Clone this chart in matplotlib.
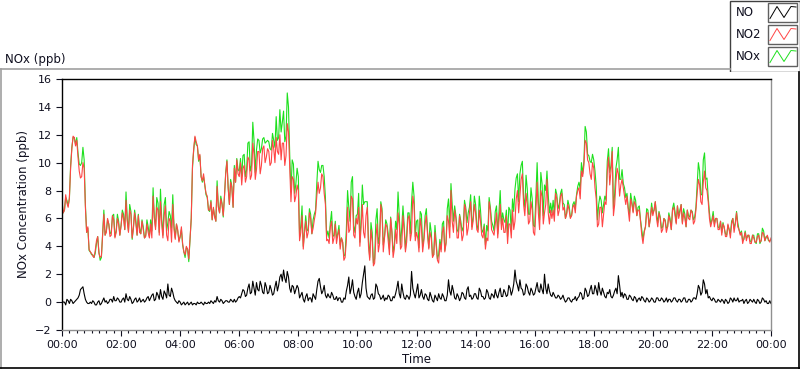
import numpy as np
import matplotlib
matplotlib.use("Agg")
import matplotlib.pyplot as plt
from matplotlib.patches import Rectangle
from matplotlib.lines import Line2D

# NO2 (ppb) read every 5 minutes, one row per hour, plus the final 24:00 value
no2 = [
    7.2, 6.6, 7.1, 7.5, 11.0, 11.8, 11.6, 9.4, 9.0, 9.6, 5.0, 3.8,
    3.5, 3.2, 4.4, 3.5, 3.3, 6.3, 5.0, 5.6, 4.8, 5.9, 5.0, 5.6,
    5.5, 6.0, 7.3, 5.0, 6.3, 5.3, 5.6, 6.2, 4.9, 5.2, 4.7, 5.0,
    5.6, 7.6, 5.2, 6.6, 7.2, 4.6, 6.9, 4.4, 5.8, 7.0, 4.5, 5.2,
    4.7, 4.2, 3.4, 3.8, 4.6, 9.8, 11.9, 11.2, 10.6, 8.7, 8.4, 7.6,
    6.6, 5.9, 6.1, 8.3, 6.4, 7.0, 7.6, 10.1, 7.0, 8.2, 9.6, 10.2,
    9.0, 8.4, 9.8, 9.0, 10.2, 9.1, 10.6, 9.5, 10.8, 9.8, 11.2, 10.4,
    10.8, 10.0, 11.0, 11.8, 10.6, 10.2, 11.4, 10.5, 12.2, 7.2, 8.8, 7.6,
    8.0, 5.0, 3.8, 5.8, 5.0, 6.0, 5.3, 6.4, 8.6, 8.2, 9.0, 7.0,
    4.5, 5.4, 4.2, 5.6, 4.8, 3.8, 4.3, 3.2, 6.8, 5.2, 7.4, 4.6,
    5.6, 4.0, 7.0, 4.6, 6.8, 3.0, 4.4, 2.8, 5.6, 4.2, 6.4, 4.6,
    5.4, 3.4, 5.0, 3.8, 4.2, 5.6, 4.0, 5.2, 4.3, 6.2, 5.0, 7.0,
    5.0, 3.6, 5.4, 4.4, 6.2, 3.8, 4.6, 3.4, 4.0, 2.8, 3.6, 5.4,
    4.2, 5.8, 8.0, 5.0, 6.0, 4.6, 5.5, 4.8, 6.6, 5.3, 7.2, 5.8,
    6.4, 5.0, 5.8, 4.6, 3.8, 4.4, 6.6, 5.0, 5.6, 4.6, 7.0, 6.0,
    5.0, 4.2, 5.6, 6.6, 5.8, 8.0, 7.6, 9.2, 6.2, 7.0, 5.8, 6.6,
    4.8, 8.6, 5.2, 7.6, 6.4, 8.8, 5.6, 6.0, 5.8, 7.4, 6.6, 7.8,
    6.8, 6.3, 6.6, 6.2, 7.0, 7.6, 8.2, 9.4, 9.8, 11.4, 10.0, 8.8,
    9.6, 7.4, 5.6, 6.8, 6.3, 7.0, 10.4, 9.4, 6.2, 8.6, 9.2, 8.4,
    8.2, 7.0, 6.6, 7.4, 6.4, 7.0, 6.6, 5.8, 4.2, 5.4, 6.4, 6.0,
    6.2, 7.2, 5.4, 6.0, 5.2, 5.8, 5.4, 5.8, 6.6, 6.2, 6.9, 6.4,
    5.6, 6.0, 6.6, 5.9, 6.4, 5.8, 7.8, 8.4, 7.0, 9.4, 8.0, 6.0,
    5.8, 5.4, 6.0, 5.2, 4.8, 5.4, 4.7, 5.2, 5.6, 5.0, 6.4, 5.2,
    5.0, 4.6, 4.4, 4.8, 4.2, 4.6, 4.3, 4.8, 4.4, 4.9, 4.6, 4.5,
    4.6,
]

# NO2 read half way between the samples above (xx:02.5, xx:07.5, ...)
no2_mid = [
    6.4, 7.7, 6.8, 9.6, 11.9, 11.2, 10.4, 8.9, 10.0, 6.8, 5.4, 3.6,
    3.3, 3.7, 4.7, 3.2, 4.8, 4.8, 6.0, 4.7, 6.2, 4.6, 6.0, 4.8,
    6.4, 5.2, 5.8, 6.6, 4.6, 6.4, 4.8, 5.0, 5.8, 4.6, 5.6, 4.6,
    4.6, 6.0, 6.8, 4.8, 5.6, 6.2, 4.8, 6.0, 4.3, 5.2, 5.6, 4.3,
    5.4, 3.6, 4.0, 3.1, 6.0, 11.0, 11.5, 10.2, 9.0, 9.2, 7.8, 6.6,
    7.2, 6.8, 5.8, 6.8, 7.4, 6.2, 9.2, 8.2, 8.6, 6.8, 8.6, 9.2,
    10.0, 9.6, 8.6, 10.4, 8.8, 11.4, 8.8, 10.8, 9.2, 11.0, 10.0, 11.0,
    9.8, 11.6, 10.0, 10.8, 12.0, 11.4, 9.8, 12.8, 9.6, 9.0, 7.2, 8.4,
    4.4, 6.2, 5.0, 4.6, 6.4, 4.9, 5.9, 7.6, 7.8, 9.2, 7.8, 4.4,
    4.2, 5.8, 4.6, 4.2, 5.2, 4.6, 3.0, 4.4, 5.0, 7.6, 4.8, 6.0,
    6.8, 5.4, 5.0, 6.2, 4.0, 5.2, 2.6, 4.6, 3.6, 7.0, 3.6, 5.6,
    4.4, 6.0, 3.2, 5.2, 6.4, 3.8, 6.2, 3.6, 6.0, 4.4, 7.6, 4.4,
    4.6, 6.0, 3.6, 5.6, 4.8, 5.0, 3.2, 5.0, 3.0, 4.2, 5.0, 3.6,
    6.2, 4.6, 5.8, 6.6, 4.6, 6.2, 4.4, 7.0, 4.8, 6.4, 5.2, 7.0,
    5.2, 6.6, 4.8, 5.4, 4.6, 7.2, 5.2, 4.8, 6.4, 5.8, 5.2, 5.0,
    6.2, 5.6, 4.6, 5.2, 7.4, 6.4, 8.8, 7.0, 7.8, 5.6, 7.2, 5.0,
    6.6, 6.4, 8.0, 5.6, 7.0, 6.4, 6.6, 6.6, 7.8, 6.2, 7.6, 6.6,
    6.0, 7.0, 6.0, 6.8, 6.4, 8.0, 7.4, 9.0, 11.6, 10.2, 9.2, 10.0,
    8.2, 5.4, 6.8, 5.4, 7.2, 9.4, 8.4, 10.8, 7.0, 9.6, 7.6, 8.8,
    7.6, 7.6, 5.8, 7.0, 7.2, 6.2, 6.6, 4.8, 5.0, 6.4, 5.4, 6.8,
    6.6, 6.0, 6.4, 5.0, 6.0, 5.0, 6.2, 5.2, 6.8, 5.6, 6.0, 7.0,
    6.4, 5.4, 6.0, 6.6, 5.6, 6.6, 8.8, 7.2, 8.6, 8.2, 7.2, 5.4,
    6.2, 6.0, 5.2, 5.8, 5.6, 4.7, 5.6, 4.6, 6.0, 5.6, 5.4, 4.8,
    4.2, 5.0, 4.8, 4.2, 4.8, 4.3, 4.7, 4.3, 5.0, 4.4, 4.8, 4.3,
]

# NO (ppb), same layout
no = [
    0.1, 0.0, 0.2, -0.1, 0.1, 0.0, 0.2, 0.5, 1.0, 0.6, 0.0, -0.1,
    -0.1, 0.0, -0.2, 0.1, -0.1, 0.3, 0.1, 0.0, 0.2, 0.4, 0.1, 0.2,
    0.0, 0.3, 0.6, 0.1, 0.2, 0.0, 0.3, 0.1, 0.0, 0.2, 0.1, 0.4,
    0.3, 0.6, 0.2, 0.5, 0.9, 0.2, 0.6, 1.3, 0.4, 0.7, 0.1, -0.1,
    0.0, -0.1, -0.2, 0.0, -0.1, -0.2, -0.1, 0.0, -0.1, -0.1, 0.0, -0.1,
    -0.1, 0.0, 0.1, 0.4, 0.0, 0.1, 0.0, 0.1, 0.0, 0.1, 0.2, 0.1,
    0.4, 0.6, 0.8, 0.5, 1.3, 0.7, 1.0, 1.4, 0.8, 1.2, 0.6, 1.1,
    0.7, 0.9, 0.6, 1.5, 1.2, 2.0, 2.3, 1.4, 1.8, 0.7, 1.1, 0.9,
    1.0, 0.5, 0.2, 0.4, 0.1, 0.3, 0.6, 0.2, 1.5, 1.1, 0.8, 0.5,
    0.6, 0.3, 0.5, 0.2, 0.1, 0.3, 0.0, 0.2, 1.2, 0.6, 1.6, 0.4,
    0.7, 0.3, 1.4, 2.6, 0.4, 0.2, 0.6, 0.3, 1.1, 0.5, 0.3, 0.1,
    0.2, 0.4, 0.1, 0.3, 1.0, 0.6, 1.3, 0.3, 0.5, 0.2, 2.2, 0.6,
    0.8, 0.3, 0.9, 0.2, 0.5, 0.1, 0.4, 0.0, 0.3, 0.6, 0.2, 0.4,
    0.1, 1.6, 0.5, 0.8, 0.2, 0.4, 0.3, 0.6, 0.2, 1.1, 0.5, 0.3,
    0.6, 0.2, 0.8, 0.4, 0.3, 0.7, 0.2, 0.5, 0.9, 0.3, 1.0, 0.4,
    0.7, 0.5, 1.0, 0.8, 2.3, 1.2, 1.6, 0.9, 0.6, 1.1, 0.5, 0.8,
    0.6, 1.4, 0.7, 0.9, 2.0, 0.6, 0.8, 0.4, 0.5, 0.3, 0.4, 0.3,
    0.2, 0.1, 0.3, 0.0, 0.2, 0.1, 0.4, 0.6, 0.3, 0.8, 0.5, 1.2,
    0.6, 0.9, 1.4, 0.5, 0.7, 0.3, 0.6, 0.4, 0.5, 1.0, 1.9, 0.4,
    0.3, 0.5, 0.2, 0.4, 0.1, 0.3, 0.2, 0.1, 0.3, 0.0, 0.2, 0.1,
    0.2, 0.0, 0.3, 0.1, 0.2, 0.1, 0.0, 0.2, 0.1, 0.3, 0.0, 0.2,
    0.1, 0.3, 0.0, 0.2, 0.1, 0.3, 0.6, 1.0, 0.7, 1.3, 0.9, 0.4,
    0.1, 0.2, 0.0, 0.1, 0.2, -0.1, 0.1, 0.0, 0.2, 0.3, 0.1, 0.0,
    0.1, -0.1, 0.2, 0.0, 0.1, 0.2, -0.1, 0.1, 0.0, 0.2, 0.1, -0.1,
    -0.1,
]

no_mid = [
    0.0, -0.2, 0.1, 0.2, -0.1, 0.1, 0.3, 0.9, 1.1, 0.2, -0.1, 0.0,
    0.1, -0.2, 0.0, -0.2, 0.1, 0.0, -0.1, 0.2, 0.0, 0.1, 0.3, 0.0,
    0.2, 0.0, 0.2, 0.4, -0.1, 0.2, 0.0, 0.3, 0.1, 0.0, 0.3, 0.1,
    0.5, 0.1, 0.7, 0.2, 0.4, 0.8, 0.3, 0.5, 1.0, 0.3, 0.0, 0.1,
    -0.2, 0.0, -0.1, -0.2, 0.0, -0.1, -0.2, -0.1, 0.0, -0.2, -0.1, 0.0,
    0.1, -0.1, 0.0, 0.1, 0.2, -0.1, 0.1, 0.0, 0.2, 0.0, 0.0, 0.3,
    0.3, 0.9, 0.4, 1.0, 0.6, 1.5, 0.5, 0.9, 1.5, 0.7, 1.4, 0.6,
    1.2, 0.5, 1.1, 0.8, 1.8, 1.5, 1.7, 2.2, 1.0, 1.2, 0.6, 1.2,
    0.3, 0.7, 0.0, 0.6, 0.3, 0.0, 0.4, 0.9, 1.7, 0.6, 1.2, 0.3,
    0.4, 0.7, 0.2, 0.4, 0.3, 0.0, 0.3, 0.8, 1.8, 1.0, 0.7, 0.2,
    1.0, 0.6, 2.0, 1.0, 0.3, 0.5, 0.2, 1.3, 0.6, 0.2, 0.5, 0.3,
    0.5, 0.1, 0.4, 0.6, 1.5, 0.3, 0.7, 0.2, 0.4, 0.5, 1.0, 0.3,
    1.3, 0.5, 0.4, 0.6, 0.2, 0.7, 0.1, 0.5, 0.1, 0.3, 0.6, 0.1,
    0.5, 0.8, 1.2, 0.3, 0.6, 0.1, 0.7, 0.3, 0.9, 0.4, 0.2, 0.6,
    0.3, 1.0, 0.4, 0.2, 0.9, 0.3, 0.6, 0.3, 0.5, 0.7, 0.4, 0.9,
    0.4, 1.2, 0.5, 1.3, 1.5, 0.8, 1.0, 0.5, 1.3, 0.7, 1.0, 0.5,
    1.0, 0.8, 1.3, 0.6, 1.0, 1.3, 0.5, 0.7, 0.3, 0.5, 0.2, 0.5,
    0.0, 0.3, 0.1, 0.2, 0.4, 0.3, 0.7, 0.2, 1.0, 0.4, 0.9, 0.6,
    1.2, 0.5, 0.8, 1.0, 0.4, 0.7, 0.9, 0.3, 0.8, 0.6, 1.2, 0.7,
    0.6, 0.2, 0.5, 0.2, 0.4, 0.0, 0.3, 0.4, 0.1, 0.3, 0.0, 0.3,
    0.0, 0.3, 0.1, 0.3, 0.0, 0.3, 0.2, 0.0, 0.3, 0.1, 0.2, 0.0,
    0.3, 0.0, 0.2, 0.0, 0.3, 0.2, 1.2, 0.5, 1.6, 0.6, 0.3, 0.2,
    0.3, 0.0, 0.2, 0.0, 0.1, 0.2, -0.1, 0.3, 0.0, 0.1, 0.3, 0.1,
    0.2, 0.1, -0.1, 0.2, 0.0, 0.0, 0.2, -0.1, 0.3, 0.0, -0.1, 0.1,
]

series_names = ["NO", "NO2", "NOx"]
series_colors = ["black", "#ff4545", "#1ee01e"]
tick_labels = ["00:00", "02:00", "04:00", "06:00", "08:00", "10:00", "12:00",
               "14:00", "16:00", "18:00", "20:00", "22:00", "00:00"]


def merge(samples, mids):
    out = []
    for a, m in zip(samples, mids):
        out += [a, m]
    out.append(samples[-1])
    return np.array(out)


no2_all = merge(no2, no2_mid)
no_all = merge(no, no_mid)
nox_all = no2_all + no_all   # NOx = NO + NO2
minutes = np.linspace(0, 1440, len(no2_all))

txt = "#101020"
W, H = 800, 369
fig = plt.figure(figsize=(8.0, 3.69), dpi=100)

# sunken panel frame around the graph
fig.add_artist(Line2D([0, 730 / W], [1 - 69 / H] * 2, color="#a0a0a0", lw=1.2))
fig.add_artist(Line2D([0.6 / W] * 2, [0, 1 - 69 / H], color="#a0a0a0", lw=1.2))
fig.add_artist(Line2D([0, 1], [0.6 / H] * 2, color="black", lw=1.2))
fig.add_artist(Line2D([799.4 / W] * 2, [0, 1 - 72 / H], color="black", lw=1.2))

fig.text(5 / W, 1 - 60 / H, "NOx (ppb)", fontsize=8.5, color=txt, va="center")

ax = fig.add_axes([62 / W, 1 - 330 / H, 709 / W, 251 / H])
ax.plot(minutes, nox_all, color=series_colors[2], lw=0.8)
ax.plot(minutes, no2_all, color=series_colors[1], lw=0.8)
ax.plot(minutes, no_all, color=series_colors[0], lw=0.8)

ax.set_xlim(0, 1440)
ax.set_ylim(-2, 16)
ax.set_yticks(range(-2, 17, 2))
ax.set_xticks(range(0, 1441, 120))
ax.set_xticklabels(tick_labels)
ax.set_xticks(range(0, 1441, 15), minor=True)
ax.tick_params(axis="both", which="major", labelsize=8, colors=txt, length=4, width=0.8)
ax.tick_params(axis="x", which="minor", length=2.5, width=0.8, colors=txt)
ax.set_xlabel("Time", fontsize=8.5, color=txt, labelpad=2)
ax.set_ylabel("NOx Concentration (ppb)", fontsize=8.5, color=txt, labelpad=4)
for s in ["top", "left"]:
    ax.spines[s].set_color("black")
for s in ["bottom", "right"]:
    ax.spines[s].set_color("#909090")
for s in ax.spines.values():
    s.set_linewidth(1.0)

# legend box drawn in pixel coordinates at the top right
lg = fig.add_axes([729 / W, 1 - 72 / H, 71 / W, 72 / H])
lg.set_xlim(0, 71)
lg.set_ylim(72, 0)
lg.axis("off")
lg.add_patch(Rectangle((0.5, 0.5), 70, 71, fill=False, ec="#404040", lw=1.0))
for i, (name, col) in enumerate(zip(series_names, series_colors)):
    yc = 12.5 + i * 22
    lg.text(7, yc, name, fontsize=8.5, color=txt, va="center", ha="left")
    lg.add_patch(Rectangle((39, yc - 9.5), 29, 19, fc="white", ec="#606060", lw=1.0))
    lg.plot([41, 48, 55, 62, 67], [yc + 6, yc - 6, yc + 5, yc - 6, yc - 5.5],
            color=col, lw=0.7)

fig.savefig("out.png", dpi=100)
